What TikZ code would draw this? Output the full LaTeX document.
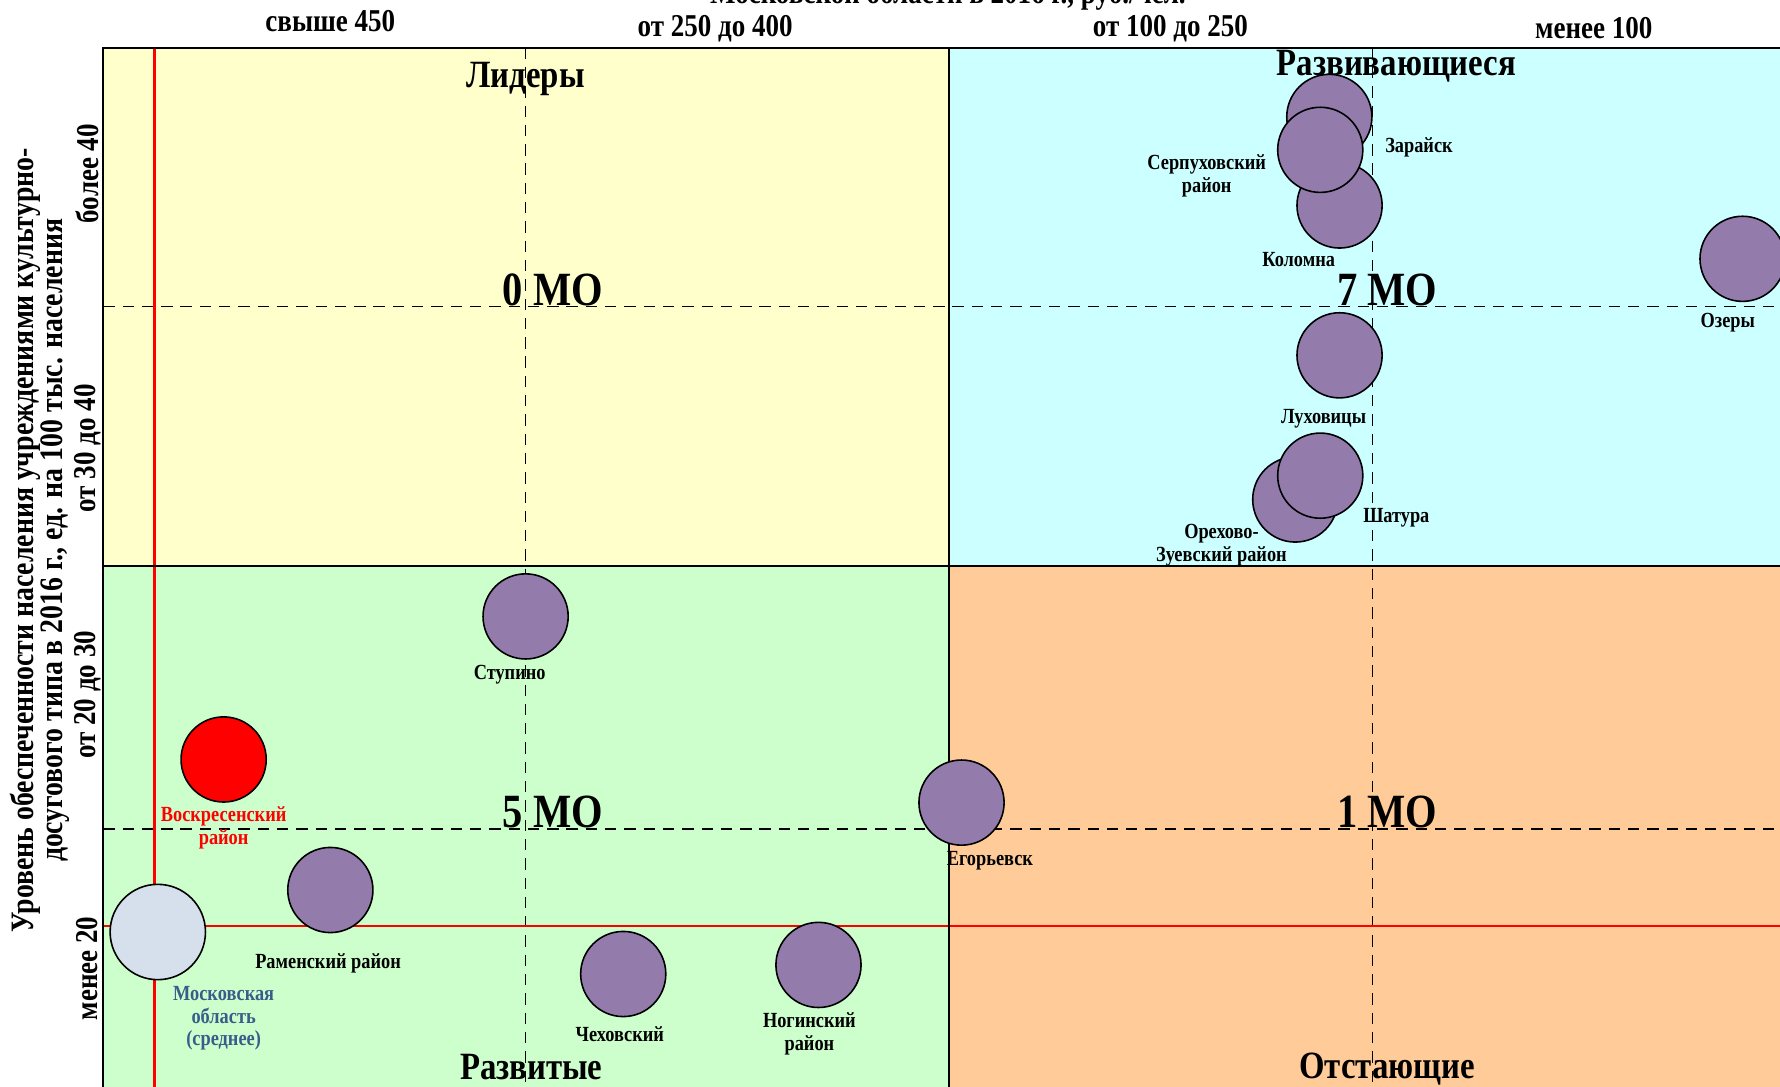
\documentclass[tikz,border=0pt]{standalone}
\usepackage{fontspec}
\setmainfont[FakeStretch=0.85]{Liberation Serif}
\definecolor{leadfill}{HTML}{FFFFCC}
\definecolor{growfill}{HTML}{CCFFFF}
\definecolor{devfill}{HTML}{CCFFCC}
\definecolor{lagfill}{HTML}{FFCC99}
\definecolor{moviolet}{HTML}{937CAC}
\definecolor{mosfill}{HTML}{D6DFEC}
\definecolor{mostext}{HTML}{385D8A}

\begin{document}
\begin{tikzpicture}
      [x=0.5pt,y=-0.5pt,
       mo node/.style={circle,draw,fill=moviolet,minimum size=37.5pt,inner sep=0pt,line width=0.7pt},
       name node/.style={font=\bfseries\fontsize{9.5}{10}\selectfont,align=center,inner sep=0pt},
       group node/.style={font=\bfseries\fontsize{17}{18}\selectfont,inner sep=0pt},
       count node/.style={font=\bfseries\fontsize{21}{22}\selectfont,inner sep=0pt},
       axis node/.style={font=\bfseries\fontsize{14}{13}\selectfont,align=center,inner sep=0pt},
       mid line/.style={dashed,dash pattern=on 5pt off 3.5pt,line width=0.7pt},
       avg line/.style={red,line width=1pt}]
        \useasboundingbox (0,0) rectangle (1568,957);
        % quadrants
        \fill[leadfill] (91,42) rectangle (836,499);
        \fill[growfill] (836,42) rectangle (1600,499);
        \fill[devfill] (91,499) rectangle (836,1000);
        \fill[lagfill] (836,499) rectangle (1600,1000);

        % axis texts
        \node[axis node,anchor=base] (title) at (835,3) {Московской области в 2016 г., руб./чел.};
        \node[axis node] (x1) at (291,19) {свыше 450};
        \node[axis node] (x2) at (630,25) {от 250 до 400};
        \node[axis node] (x3) at (1031,25) {от 100 до 250};
        \node[axis node] (x4) at (1404,25) {менее 100};
        \node[axis node,rotate=90,font=\bfseries\fontsize{14.4}{13}\selectfont] (ytitle) at (35,476) {Уровень обеспеченности населения учреждениями культурно-\\досугового типа в 2016 г., ед. на 100 тыс. населения};
        \node[axis node,rotate=90] (y1) at (77,153) {более 40};
        \node[axis node,rotate=90] (y2) at (77,395) {от 30 до 40};
        \node[axis node,rotate=90] (y3) at (77,612) {от 20 до 30};
        \node[axis node,rotate=90] (y4) at (77,853) {менее 20};

        \node[group node] (lead) at (463,70) {Лидеры};
        \node[group node] (grow) at (1230,58) {Развивающиеся};
        \node[group node] (dev) at (468,940) {Развитые};
        \node[group node] (lag) at (1222,942) {Отстающие};
        \node[count node] (n0) at (487,255) {0 МО};
        \node[count node] (n7) at (1222,255) {7 МО};
        \node[count node] (n5) at (487,715) {5 МО};
        \node[count node] (n1) at (1222,715) {1 МО};

        % lines
        \draw[mid line] (463,42) -- (463,1000);
        \draw[mid line] (1209,42) -- (1209,1000);
        \draw[mid line] (91,270) -- (1600,270);
        \draw[mid line] (91,730) -- (1600,730);
        \draw[avg line] (136,42) -- (136,1000);
        \draw[avg line] (91,816) -- (1600,816);
        \draw[line width=0.9pt] (836,42) -- (836,1000);
        \draw[line width=0.9pt] (91,499) -- (1600,499);
        \draw[line width=0.9pt] (1600,42) -- (91,42) -- (91,1000);

        % municipalities
        \node[mo node] (zar) at (1171,103) {};
        \node[mo node] (kol) at (1180,181) {};
        \node[mo node] (ser) at (1163,132) {};
        \node[mo node] (oze) at (1535,228) {};
        \node[mo node] (luh) at (1180,313) {};
        \node[mo node] (ore) at (1141,440) {};
        \node[mo node] (sha) at (1163,419) {};
        \node[mo node] (stu) at (463,543) {};
        \node[mo node,fill=red] (vos) at (197,669) {};
        \node[mo node] (ego) at (847,707) {};
        \node[mo node] (ram) at (291,784) {};
        \node[mo node,fill=mosfill,minimum size=42pt] (mos) at (139,821) {};
        \node[mo node] (che) at (549,858) {};
        \node[mo node] (nog) at (721,850) {};

        \node[name node] (zarl) at (1250,130) {Зарайск};
        \node[name node] (serl) at (1063,155) {Серпуховский\\район};
        \node[name node] (koll) at (1144,229) {Коломна};
        \node[name node] (ozel) at (1522,284) {Озеры};
        \node[name node] (luhl) at (1166,369) {Луховицы};
        \node[name node] (shal) at (1230,456) {Шатура};
        \node[name node] (orel) at (1076,480) {Орехово-\\Зуевский район};
        \node[name node] (stul) at (449,594) {Ступино};
        \node[name node,text=red] (vosl) at (197,729) {Воскресенский\\район};
        \node[name node] (egol) at (872,758) {Егорьевск};
        \node[name node] (raml) at (289,849) {Раменский район};
        \node[name node,text=mostext] (mosl) at (197,897) {Московская\\область\\(среднее)};
        \node[name node] (chel) at (546,911) {Чеховский};
        \node[name node] (nogl) at (713,911) {Ногинский\\район};

      \end{tikzpicture}
\end{document}
